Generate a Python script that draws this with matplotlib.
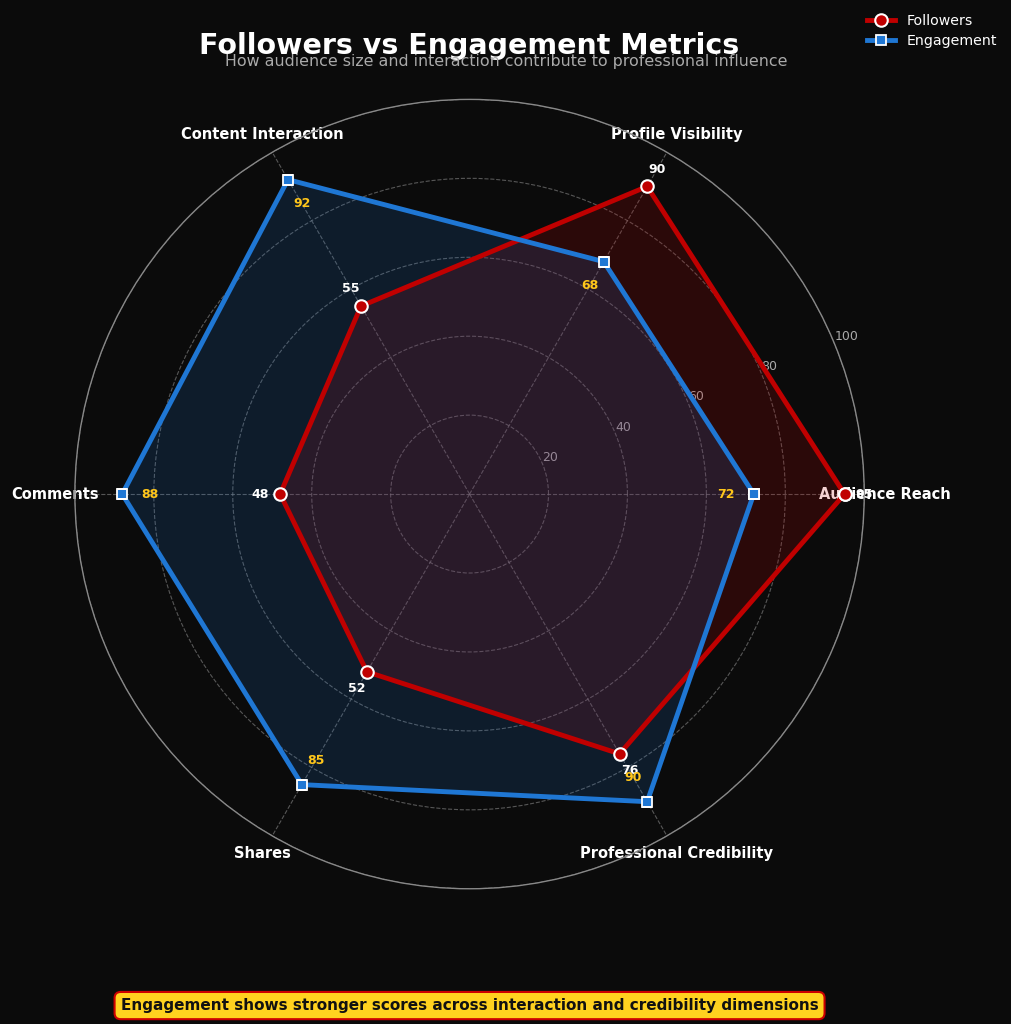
import matplotlib.pyplot as plt
import numpy as np

# data
categories = ['Audience Reach', 'Profile Visibility', 'Content Interaction',
              'Comments', 'Shares', 'Professional Credibility']
followers = [95, 90, 55, 48, 52, 76]
engagement = [72, 68, 92, 88, 85, 90]
r_ticks = [20, 40, 60, 80, 100]

bg = '#0b0b0b'
red = '#c00000'
blue = '#1f77d4'

n = len(categories)
angles = np.linspace(0, 2 * np.pi, n, endpoint=False)
ang_c = np.concatenate([angles, angles[:1]])
fol_c = followers + followers[:1]
eng_c = engagement + engagement[:1]

fig = plt.figure(figsize=(10.12, 10.24), dpi=100, facecolor=bg)
ax = fig.add_axes([0.074, 0.132, 0.78, 0.771], projection='polar', facecolor=bg)

ax.plot(ang_c, fol_c, color=red, lw=3.5, marker='o', ms=9,
        mfc=red, mec='white', mew=1.5, label='Followers', zorder=4)
ax.fill(ang_c, fol_c, color=red, alpha=0.18, zorder=2)
ax.plot(ang_c, eng_c, color=blue, lw=3.5, marker='s', ms=7.5,
        mfc=blue, mec='white', mew=1.3, label='Engagement', zorder=5)
ax.fill(ang_c, eng_c, color=blue, alpha=0.16, zorder=3)

# value labels
for a, v in zip(angles, followers):
    ax.text(a, v + 5, str(v), color='white', fontsize=9, fontweight='bold',
            ha='center', va='center', zorder=6)
for a, v in zip(angles, engagement):
    ax.text(a, v - 7, str(v), color='#ffc61a', fontsize=9, fontweight='bold',
            ha='center', va='center', zorder=6)

ax.set_ylim(0, 100)
ax.set_xticks(angles)
ax.set_xticklabels(categories, color='white', fontsize=10.5, fontweight='bold')
ax.tick_params(axis='x', pad=4)
ax.set_yticks(r_ticks)
ax.set_yticklabels([str(t) for t in r_ticks], color='#aaaaaa', fontsize=9)
ax.set_rlabel_position(22.5)
ax.grid(True, color='#777777', ls='--', lw=0.8, alpha=0.7)
ax.spines['polar'].set_color('#888888')
ax.spines['polar'].set_linewidth(1)

fig.text(0.464, 0.955, 'Followers vs Engagement Metrics', color='white',
         fontsize=20.5, fontweight='bold', ha='center', va='center')
fig.text(0.5, 0.94, 'How audience size and interaction contribute to professional influence',
         color='#aaaaaa', fontsize=11.4, ha='center', va='center')

fig.legend(loc='upper right', bbox_to_anchor=(0.998, 0.999), frameon=False,
           labelcolor='white', fontsize=10.2, labelspacing=0.45)

fig.text(0.464, 0.018,
         'Engagement shows stronger scores across interaction and credibility dimensions',
         color='#111111', fontsize=11, fontweight='bold', ha='center', va='center',
         bbox=dict(boxstyle='round,pad=0.4', fc='#ffd21f', ec='#cc0000', lw=1.5))

fig.savefig('out.png', dpi=100, facecolor=bg)
